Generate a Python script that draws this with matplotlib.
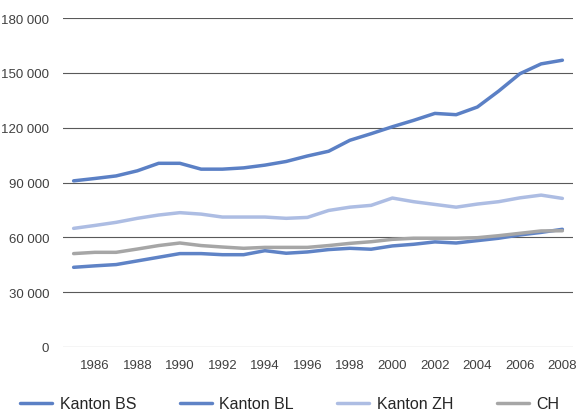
import matplotlib
matplotlib.use("Agg")
import matplotlib.pyplot as plt
from matplotlib.ticker import FuncFormatter, MultipleLocator, FixedLocator

plt.rcParams['font.family'] = ['Liberation Sans', 'DejaVu Sans']

years = list(range(1985, 2009))

kanton_bs = [90900, 92200, 93600, 96400, 100500, 100500, 97300, 97300, 98000, 99500,
             101500, 104500, 107100, 113100, 116700, 120500, 124000, 127800, 127100,
             131300, 140000, 149500, 154900, 156900]
kanton_bl = [43600, 44400, 45100, 47100, 49100, 51100, 51100, 50500, 50500, 52700,
             51300, 52000, 53300, 54000, 53500, 55300, 56200, 57500, 56900, 58200,
             59500, 61300, 62700, 64400]
kanton_zh = [64900, 66500, 68200, 70400, 72200, 73500, 72700, 71100, 71100, 71100,
             70400, 70900, 74700, 76500, 77500, 81500, 79500, 78000, 76500, 78200,
             79500, 81600, 83100, 81300]
ch = [51100, 51800, 51800, 53600, 55500, 56900, 55500, 54700, 54000, 54500,
      54500, 54500, 55500, 56700, 57600, 58900, 59500, 59500, 59500, 59800,
      60900, 62200, 63500, 63600]

series = [
    ("Kanton BS", kanton_bs, "#5b80c5"),
    ("Kanton BL", kanton_bl, "#5f83c6"),
    ("Kanton ZH", kanton_zh, "#adbde3"),
    ("CH", ch, "#a6a6a6"),
]

fig = plt.figure(figsize=(5.79, 4.14), dpi=100)
ax = fig.add_axes([63 / 579, 1 - 348 / 414, 510 / 579, 329 / 414])

for name, vals, col in series:
    ax.plot(years, vals, color=col, lw=2.5, label=name, solid_capstyle='round',
            solid_joinstyle='round', zorder=3)

ax.set_xlim(1984.5, 2008.5)
ax.set_ylim(0, 180000)
ax.yaxis.set_major_locator(MultipleLocator(30000))
ax.xaxis.set_major_locator(FixedLocator(list(range(1986, 2009, 2))))
ax.yaxis.set_major_formatter(FuncFormatter(lambda v, p: f"{v:,.0f}".replace(",", " ")))

ax.grid(axis='y', color='#595959', lw=0.8, zorder=1)
for s in ax.spines.values():
    s.set_visible(False)
ax.tick_params(axis='both', length=0, labelsize=9.5, colors='#404040')
ax.tick_params(axis='y', pad=10)
ax.tick_params(axis='x', pad=9)

fig.legend(loc='center left', bbox_to_anchor=(20 / 579, 1 - 405 / 414), ncol=4,
           frameon=False, fontsize=11.5, handlelength=2.0, handletextpad=0.5,
           columnspacing=2.7, borderpad=0, borderaxespad=0, labelcolor='#262626')

fig.savefig("out.png", dpi=100)
